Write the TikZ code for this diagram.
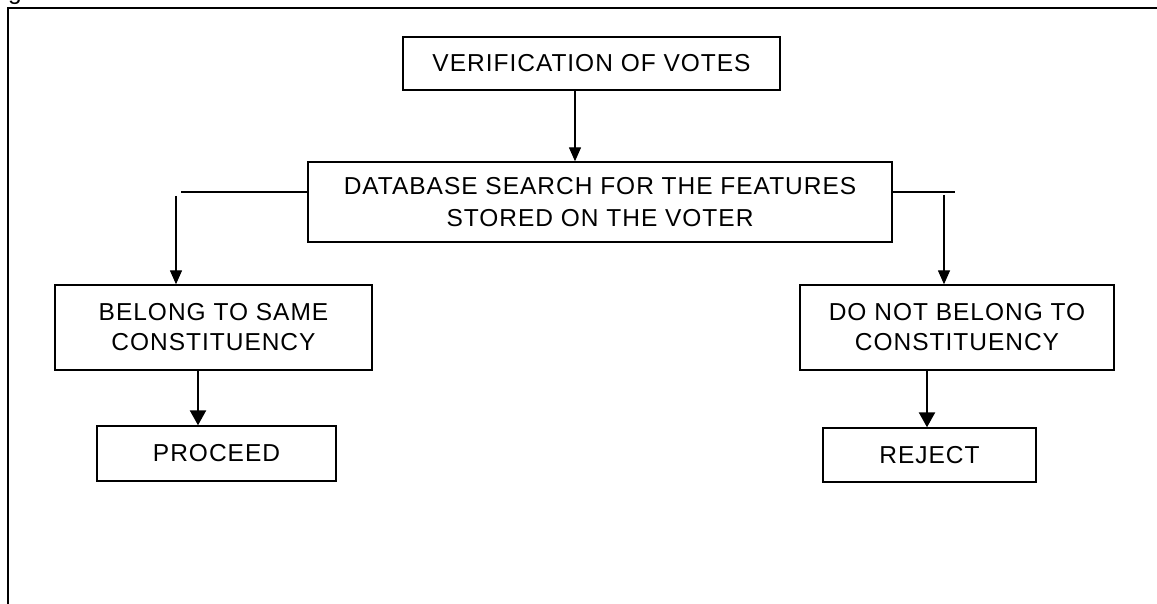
\documentclass[tikz,border=0pt]{standalone}
\usepackage{fontspec}
\setmainfont{Liberation Sans}[LetterSpace=4]
\usetikzlibrary{arrows.meta}
\begin{document}
\begin{tikzpicture}[x=1pt,y=-1pt,
  box/.style={draw,line width=1.4pt,rectangle,inner sep=0pt,align=center,
    font=\fontsize{24.5}{30}\selectfont},
  conn/.style={line width=1.4pt},
  arr/.style={conn,-{Triangle[length=14pt,width=12pt]}},
  arrb/.style={line width=2.4pt,-{Triangle[length=15pt,width=16pt]}},
  lbl/.style={inner sep=0pt,anchor=base west,font=\fontsize{24.5}{30}\selectfont}]
\useasboundingbox (0,0) rectangle (1157,604);
% partial caption cut at top
\node[lbl] (cap) at (8,0) {given below.};
% frame
\draw[line width=2pt] (7.5,640) -- (7.5,8) -- (1200,8);
% boxes
\node[box,minimum width=377pt,minimum height=53pt] (ver) at (591.5,63.5) {VERIFICATION OF VOTES};
\node[box,minimum width=584pt,minimum height=80pt,font=\fontsize{24.5}{32}\selectfont] (db) at (600,202) {DATABASE SEARCH FOR THE FEATURES\\STORED ON THE VOTER};
\node[box,minimum width=317pt,minimum height=85pt] (bel) at (213.5,327.5) {BELONG TO SAME\\CONSTITUENCY};
\node[box,minimum width=314pt,minimum height=85pt] (dnb) at (957,327.5) {DO NOT BELONG TO\\CONSTITUENCY};
\node[box,minimum width=239pt,minimum height=55pt] (pro) at (216.5,453.5) {PROCEED};
\node[box,minimum width=213pt,minimum height=54pt] (rej) at (929.5,455) {REJECT};
% connectors
\draw[arr] ([xshift=-16.5pt]ver.south) -- ([xshift=-25pt]db.north);
\coordinate (lend) at (181,192);
\coordinate (lt) at (176,196);
\draw[conn] ([yshift=10pt]db.west) -- (lend);
\draw[arr] (lt) -- (lt |- bel.north);
\coordinate (rend) at (955,192);
\coordinate (rt) at (944,195);
\draw[conn] ([yshift=10pt]db.east) -- (rend);
\draw[arr] (rt) -- (rt |- dnb.north);
\draw[arrb] ([xshift=-15.5pt]bel.south) -- ([xshift=-18.5pt]pro.north);
\draw[arrb] ([xshift=-30pt]dnb.south) -- ([xshift=-2.5pt]rej.north);
\end{tikzpicture}
\end{document}
